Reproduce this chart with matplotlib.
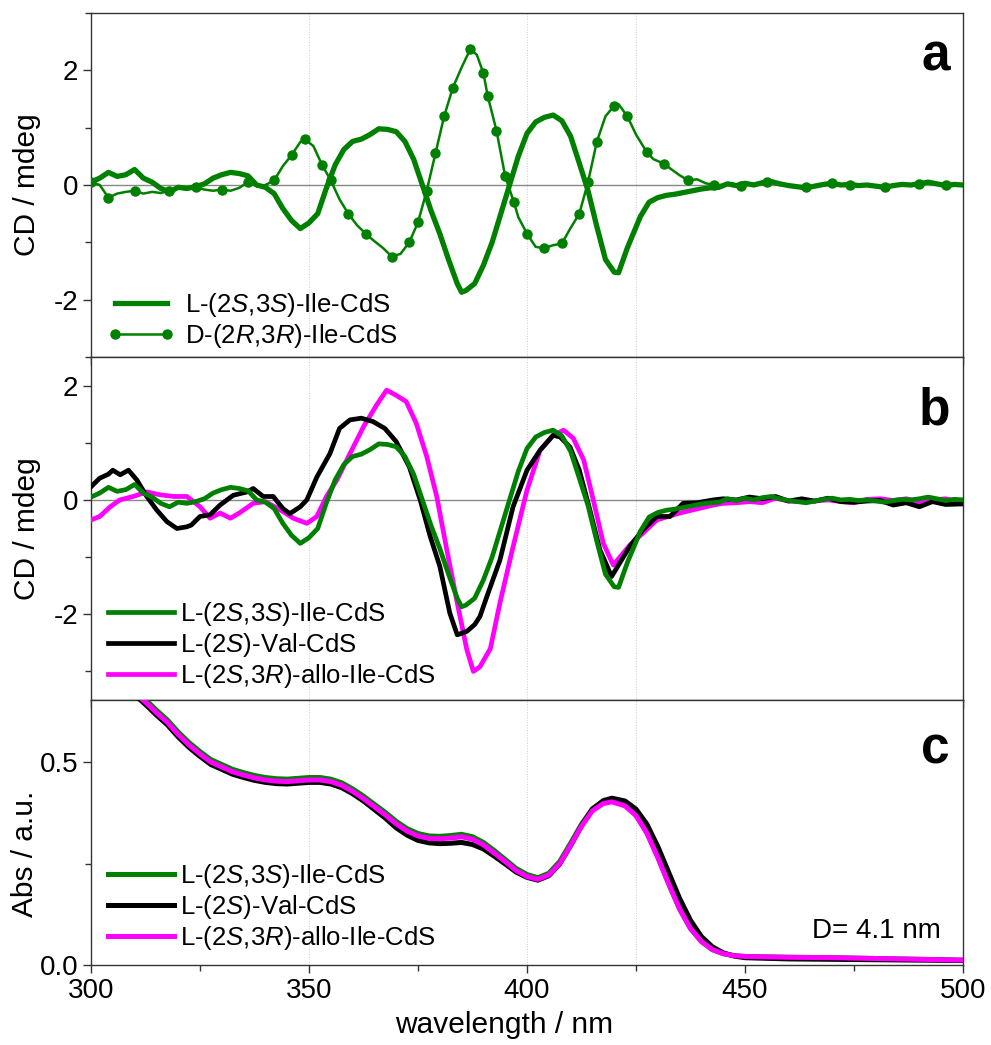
import numpy as np
import matplotlib.pyplot as plt
from matplotlib.ticker import MultipleLocator, FormatStrFormatter

plt.rcParams['font.family'] = ['Liberation Sans', 'DejaVu Sans']
plt.rcParams['mathtext.fontset'] = 'custom'
plt.rcParams['mathtext.rm'] = 'Liberation Sans'
plt.rcParams['mathtext.it'] = 'Liberation Sans:italic'
plt.rcParams['axes.unicode_minus'] = False

GREEN = '#008000'
MAGENTA = '#ff00ff'

lab_ile = 'L-(2$\\mathit{S}$,3$\\mathit{S}$)-Ile-CdS'
lab_d_ile = 'D-(2$\\mathit{R}$,3$\\mathit{R}$)-Ile-CdS'
lab_val = 'L-(2$\\mathit{S}$)-Val-CdS'
lab_allo = 'L-(2$\\mathit{S}$,3$\\mathit{R}$)-allo-Ile-CdS'

# CD of L-(2S,3S)-Ile-CdS (used in panels a and b)
wl_ile = [300, 302, 304, 306, 308, 310, 312, 314, 316, 318, 320, 322, 324, 326, 328,
          330, 332, 334, 336, 338, 340, 342, 344, 346, 348, 350, 352, 354, 356, 358,
          360, 362, 364, 366, 368, 370, 372, 374, 376, 378, 380, 382, 384, 385, 386,
          388, 390, 392, 394, 396, 398, 400, 402, 404, 406, 408, 410, 412, 414, 416,
          418, 420, 421, 423, 426, 428, 430, 432, 434, 436, 438, 440, 442, 444, 446,
          448, 450, 452, 454, 456, 458, 460, 462, 464, 466, 468, 470, 472, 474, 476,
          478, 480, 482, 484, 486, 488, 490, 492, 494, 496, 498, 500]
cd_ile = [0.05, 0.12, 0.22, 0.15, 0.18, 0.27, 0.12, 0.05, -0.06, -0.12, -0.04, -0.06,
          -0.03, 0.02, 0.12, 0.18, 0.22, 0.2, 0.16, 0.0, -0.04, -0.15, -0.41, -0.62,
          -0.76, -0.66, -0.5, -0.05, 0.35, 0.62, 0.76, 0.8, 0.88, 0.98, 0.97, 0.93, 0.76,
          0.45, 0.0, -0.45, -0.85, -1.3, -1.72, -1.87, -1.84, -1.72, -1.4, -1.0, -0.5,
          0.0, 0.5, 0.9, 1.1, 1.18, 1.22, 1.12, 0.85, 0.38, -0.1, -0.72, -1.3, -1.52,
          -1.53, -1.1, -0.55, -0.3, -0.22, -0.18, -0.16, -0.13, -0.1, -0.07, -0.05,
          -0.04, 0.02, -0.01, 0.03, 0.0, 0.04, 0.06, 0.02, -0.01, -0.03, -0.05, -0.02,
          0.01, 0.03, 0.0, 0.01, -0.01, 0.0, -0.02, -0.04, -0.01, 0.01, 0.0, 0.02, 0.05,
          0.02, -0.01, 0.01, 0.0]

# CD of D-(2R,3R)-Ile-CdS (panel a)
wl_d_ile = [300, 302, 304, 306, 308, 310, 312, 314, 316, 318, 320, 322, 324, 326, 328,
            330, 332, 334, 336, 338, 340, 342, 344, 346, 348, 349, 351, 353, 355, 357,
            359, 361, 363, 365, 367, 369, 371, 373, 375, 377, 379, 381, 383, 385, 387,
            388.5, 390, 391, 393, 395, 397, 398, 400, 402, 404, 406, 408, 410, 412, 414,
            416, 418, 420, 421, 423, 425, 427.5, 429, 431.5, 433, 435, 437, 439, 441, 443,
            445, 447, 449, 452, 455, 458, 461, 464, 467, 470, 474, 478, 482, 486, 490,
            493, 496, 500]
cd_d_ile = [0.05, 0.0, -0.22, -0.15, -0.12, -0.1, -0.15, -0.12, -0.14, -0.1, -0.05,
            -0.08, -0.04, -0.08, -0.1, -0.08, -0.1, -0.05, 0.05, -0.02, 0.0, 0.08, 0.33,
            0.52, 0.75, 0.8, 0.68, 0.35, 0.08, -0.25, -0.5, -0.7, -0.85, -0.98, -1.1,
            -1.25, -1.2, -1.0, -0.65, -0.1, 0.55, 1.2, 1.7, 2.05, 2.37, 2.27, 1.95, 1.55,
            0.95, 0.15, -0.3, -0.56, -0.85, -1.08, -1.1, -1.05, -1.02, -0.75, -0.5, 0.05,
            0.75, 1.2, 1.38, 1.41, 1.2, 0.88, 0.57, 0.45, 0.37, 0.28, 0.17, 0.08, 0.1,
            0.03, 0.0, 0.0, 0.03, -0.02, 0.02, 0.05, 0.0, -0.02, -0.04, 0.0, 0.03, 0.0,
            0.01, -0.03, 0.0, 0.01, 0.04, 0.0, -0.01]

# CD of L-(2S)-Val-CdS (panel b)
wl_val = [300, 302, 304, 305, 306.7, 308.6, 310.5, 312.8, 315, 317.4, 319.7, 322, 323,
          325, 327.3, 329.6, 332.6, 335.8, 337.2, 339.5, 341.8, 344, 345.6, 348, 349.5,
          351.8, 354.8, 357, 359.4, 362, 364.7, 367.4, 370, 373, 375.5, 377.8, 380,
          382.3, 384, 386.2, 388, 389.2, 390.8, 393.8, 396.8, 400, 403, 406, 407.6,
          409.9, 412, 414.4, 416.7, 419.4, 421.3, 423.6, 426.6, 429.8, 432.8, 435.8,
          439, 442.7, 445, 448, 451, 454, 457, 460, 463, 466, 469, 472, 475, 478, 481,
          484, 487, 490, 493, 496, 500]
cd_val = [0.23, 0.38, 0.45, 0.52, 0.44, 0.52, 0.35, 0.06, -0.17, -0.38, -0.5, -0.47,
          -0.44, -0.29, -0.26, -0.09, 0.08, 0.14, 0.2, 0.06, 0.06, -0.15, -0.24, -0.12,
          0.0, 0.4, 0.81, 1.25, 1.4, 1.43, 1.37, 1.25, 1.02, 0.58, 0.0, -0.64, -1.16,
          -1.98, -2.36, -2.3, -2.18, -2.04, -1.69, -1.05, -0.12, 0.52, 0.87, 1.13, 1.1,
          0.92, 0.52, -0.17, -0.87, -1.34, -1.1, -0.81, -0.52, -0.29, -0.29, -0.06,
          -0.05, 0.0, 0.02, 0.0, 0.05, 0.02, 0.06, -0.02, 0.02, -0.02, 0.03, -0.03,
          -0.04, -0.02, -0.01, -0.09, -0.05, -0.12, -0.03, -0.08, -0.07]

# CD of L-(2S,3R)-allo-Ile-CdS (panel b)
wl_allo = [300, 302, 304.4, 306.6, 309.7, 312.8, 315.8, 319, 322, 325, 327.3, 329.6,
           332, 334, 337.2, 340, 343.3, 346.4, 349.5, 351.8, 354, 356.4, 359.4, 362.5,
           365.5, 367.8, 370, 372.3, 374.6, 377, 379.3, 381.6, 384, 386.2, 387.7, 389.2,
           391.6, 393.8, 396.8, 400, 403, 406, 408.4, 410.6, 413, 415.2, 417.5, 419.8,
           421.3, 423.6, 426.6, 429.8, 435, 442.7, 445, 448, 451, 454, 457, 460, 463,
           466, 469, 472, 475, 478, 481, 484, 487, 490, 493, 496, 500]
cd_allo = [-0.35, -0.29, -0.12, 0.0, 0.06, 0.14, 0.09, 0.06, 0.06, -0.12, -0.32, -0.23,
           -0.32, -0.23, -0.06, -0.03, -0.17, -0.32, -0.41, -0.29, 0.06, 0.35, 0.81,
           1.28, 1.66, 1.92, 1.83, 1.72, 1.34, 0.76, 0.06, -0.87, -1.8, -2.62, -3.0,
           -2.92, -2.6, -1.8, -0.82, 0.17, 0.87, 1.13, 1.22, 1.08, 0.7, 0.0, -0.76, -1.14,
           -1.0, -0.79, -0.58, -0.35, -0.23, -0.09, -0.06, -0.05, -0.03, -0.05, 0.03,
           -0.02, -0.03, -0.02, 0.0, -0.03, -0.05, 0.01, 0.02, -0.01, 0.02, -0.04, 0.0,
           0.02, -0.05]

# absorbance (panel c)
wl_abs = [300, 305, 310, 312.5, 315, 317.5, 320, 322.5, 325, 327.5, 330, 332.5, 335,
          337.5, 340, 342.5, 345, 347.5, 350, 352.5, 355, 357.5, 360, 362.5, 365, 367.5,
          370, 372.5, 375, 377.5, 380, 382.5, 385, 387.5, 390, 392.5, 395, 397.5, 400,
          402.5, 405, 407.5, 410, 412.5, 415, 417.5, 419.5, 422.5, 425, 427.5, 430,
          432.5, 435, 437.5, 440, 442.5, 445, 447.5, 450, 460, 470, 480, 490, 500]
abs_ile = [0.785, 0.731, 0.678, 0.654, 0.628, 0.604, 0.574, 0.548, 0.526, 0.506, 0.494,
           0.482, 0.474, 0.467, 0.462, 0.459, 0.458, 0.46, 0.462, 0.462, 0.458, 0.449,
           0.434, 0.416, 0.396, 0.376, 0.354, 0.336, 0.324, 0.318, 0.317, 0.319, 0.322,
           0.316, 0.302, 0.282, 0.26, 0.238, 0.223, 0.215, 0.226, 0.255, 0.3, 0.347,
           0.385, 0.403, 0.407, 0.395, 0.37, 0.326, 0.266, 0.2, 0.138, 0.09, 0.058,
           0.038, 0.028, 0.023, 0.021, 0.019, 0.018, 0.016, 0.014, 0.012]
abs_val = [0.775, 0.72, 0.666, 0.642, 0.616, 0.592, 0.562, 0.536, 0.514, 0.494, 0.482,
           0.47, 0.462, 0.455, 0.45, 0.447, 0.446, 0.448, 0.45, 0.45, 0.446, 0.437,
           0.422, 0.404, 0.383, 0.362, 0.338, 0.32, 0.307, 0.301, 0.299, 0.3, 0.302,
           0.297, 0.286, 0.268, 0.249, 0.229, 0.216, 0.209, 0.22, 0.249, 0.294, 0.343,
           0.384, 0.405, 0.411, 0.404, 0.384, 0.347, 0.292, 0.228, 0.164, 0.11, 0.07,
           0.045, 0.03, 0.022, 0.018, 0.015, 0.014, 0.013, 0.012, 0.011]
abs_allo = [0.78, 0.725, 0.672, 0.648, 0.622, 0.598, 0.568, 0.542, 0.52, 0.5, 0.488,
            0.476, 0.468, 0.461, 0.456, 0.453, 0.452, 0.454, 0.456, 0.456, 0.452, 0.443,
            0.428, 0.41, 0.39, 0.37, 0.348, 0.33, 0.318, 0.312, 0.311, 0.313, 0.316,
            0.31, 0.296, 0.276, 0.255, 0.233, 0.218, 0.211, 0.222, 0.25, 0.295, 0.342,
            0.38, 0.398, 0.402, 0.392, 0.368, 0.325, 0.265, 0.2, 0.138, 0.09, 0.058,
            0.038, 0.028, 0.023, 0.021, 0.019, 0.018, 0.016, 0.014, 0.012]

W, H = 991, 1045
fig = plt.figure(figsize=(W / 100, H / 100), dpi=100)


def px_axes(top, bottom):
    return [91 / W, 1 - bottom / H, 872 / W, (bottom - top) / H]


ax_a = fig.add_axes(px_axes(13, 357))
ax_b = fig.add_axes(px_axes(357, 700))
ax_c = fig.add_axes(px_axes(700, 965))

TICK_FS = 20
LAB_FS = 21.5
LEG_FS = 18.5

for ax in (ax_a, ax_b, ax_c):
    ax.set_xlim(300, 500)
    ax.xaxis.set_major_locator(MultipleLocator(50))
    ax.xaxis.set_minor_locator(MultipleLocator(25))
    for x in (350, 400, 425):
        ax.axvline(x, color='#cccccc', lw=0.7, ls=':', zorder=0)
    ax.tick_params(which='both', direction='out', labelsize=TICK_FS, top=False,
                   right=False, width=1.0, color='#333333', pad=3)
    ax.tick_params(which='major', length=6)
    ax.tick_params(which='minor', length=4)
    for s in ax.spines.values():
        s.set_linewidth(1.0)
        s.set_color('#333333')

for ax in (ax_a, ax_b):
    ax.tick_params(labelbottom=False)
    ax.axhline(0, color='#888888', lw=1.0, zorder=1)
    ax.yaxis.set_major_locator(MultipleLocator(2))
    ax.yaxis.set_minor_locator(MultipleLocator(1))
    ax.yaxis.set_major_formatter(FormatStrFormatter('%d'))
    ax.set_ylabel('CD / mdeg', fontsize=LAB_FS)
    ax.yaxis.set_label_coords(-0.057, 0.5)

leg_kw = dict(loc='lower left', frameon=False, fontsize=LEG_FS, handlelength=2.6,
              labelspacing=0.12, borderaxespad=0.0, borderpad=0.0)

# panel a
ax_a.set_ylim(-3, 3)
ax_a.plot(wl_ile, cd_ile, color=GREEN, lw=3.8, label=lab_ile, zorder=3)
ax_a.plot(wl_d_ile, cd_d_ile, color=GREEN, lw=1.8, marker='o', ms=6.5,
          markevery=0.03, label=lab_d_ile, zorder=3)
ax_a.legend(bbox_to_anchor=(0.019, 0.02), handletextpad=0.4, numpoints=2, **leg_kw)
ax_a.text(0.985, 0.834, 'a', transform=ax_a.transAxes, ha='right', va='baseline',
          fontsize=37, fontweight='bold')

# panel b
ax_b.set_ylim(-3.5, 2.5)
ax_b.plot(wl_ile, cd_ile, color=GREEN, lw=3.4, label=lab_ile, zorder=5)
ax_b.plot(wl_val, cd_val, color='black', lw=3.4, label=lab_val, zorder=4)
ax_b.plot(wl_allo, cd_allo, color=MAGENTA, lw=3.4, label=lab_allo, zorder=3)
ax_b.legend(bbox_to_anchor=(0.019, 0.03), handletextpad=0.2, **leg_kw)
ax_b.text(0.985, 0.802, 'b', transform=ax_b.transAxes, ha='right', va='baseline',
          fontsize=37, fontweight='bold')

# panel c
ax_c.set_ylim(0, 0.653)
ax_c.plot(wl_abs, abs_ile, color=GREEN, lw=3.6, label=lab_ile, zorder=3)
ax_c.plot(wl_abs, abs_val, color='black', lw=3.6, label=lab_val, zorder=4)
ax_c.plot(wl_abs, abs_allo, color=MAGENTA, lw=3.6, label=lab_allo, zorder=5)
ax_c.yaxis.set_major_locator(MultipleLocator(0.5))
ax_c.yaxis.set_minor_locator(MultipleLocator(0.25))
ax_c.yaxis.set_major_formatter(FormatStrFormatter('%.1f'))
ax_c.set_ylabel('Abs / a.u.', fontsize=LAB_FS)
ax_c.yaxis.set_label_coords(-0.06, 0.42)
ax_c.set_xlabel('wavelength / nm', fontsize=LAB_FS)
ax_c.xaxis.set_label_coords(0.474, -0.172)
ax_c.legend(bbox_to_anchor=(0.019, 0.05), handletextpad=0.2, **leg_kw)
ax_c.text(0.985, 0.762, 'c', transform=ax_c.transAxes, ha='right', va='baseline',
          fontsize=37, fontweight='bold')
ax_c.text(0.975, 0.13, 'D= 4.1 nm', transform=ax_c.transAxes, ha='right',
          va='center', fontsize=TICK_FS)

fig.savefig('out.png', dpi=100)
